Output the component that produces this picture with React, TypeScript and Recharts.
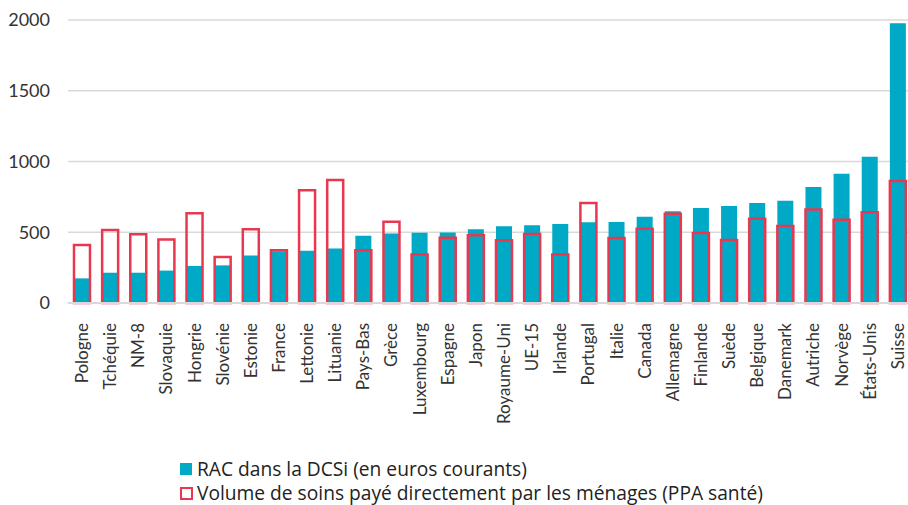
import { BarChart, Bar, XAxis, YAxis, CartesianGrid } from "recharts";

const countries = [
  "Pologne", "Tchéquie", "NM-8", "Slovaquie", "Hongrie", "Slovénie", "Estonie", "France",
  "Lettonie", "Lituanie", "Pays-Bas", "Grèce", "Luxembourg", "Espagne", "Japon",
  "Royaume-Uni", "UE-15", "Irlande", "Portugal", "Italie", "Canada", "Allemagne",
  "Finlande", "Suède", "Belgique", "Danemark", "Autriche", "Norvège", "États-Unis", "Suisse",
];

const racDcsi = [
  174, 214, 214, 229, 262, 266, 335, 365, 370, 386, 476, 492, 497, 499, 521,
  542, 549, 558, 570, 572, 610, 648, 671, 686, 707, 723, 820, 914, 1034, 1977,
];

const volumeSoins = [
  410, 516, 485, 448, 634, 325, 521, 372, 796, 869, 372, 575, 342, 462, 478,
  443, 488, 342, 707, 459, 525, 631, 495, 445, 596, 544, 660, 589, 641, 862,
];

const yTicks = [0, 500, 1000, 1500, 2000];

const seriesNames = [
  "RAC dans la DCSi (en euros courants)",
  "Volume de soins payé directement par les ménages (PPA santé)",
];

const TEAL = "#00a9c6";
const RED = "#e8384f";
const FONT = "Lato, 'Open Sans', sans-serif";
const LEGEND_FONT = "'Open Sans', Lato, sans-serif";

const data = countries.map((name, i) => ({
  name,
  rac: racDcsi[i],
  volume: volumeSoins[i],
}));

function CountryTick(props: any) {
  const { x, y, payload } = props;
  return (
    <g transform={`translate(${x},${y})`}>
      <text
        transform="rotate(-90)"
        textAnchor="end"
        dy="0.35em"
        fill="#333"
        fontSize={17}
        fontFamily={FONT}
      >
        {payload.value}
      </text>
    </g>
  );
}

export default function App() {
  return (
    <div
      style={{
        position: "absolute",
        left: 0,
        top: 0,
        width: 908,
        height: 505,
        overflow: "hidden",
        background: "#fff",
        fontFamily: FONT,
      }}
    >
      <BarChart
        width={916}
        height={505}
        data={data}
        margin={{ top: 20, right: 4, bottom: 0, left: 8 }}
        barGap={-16}
        barCategoryGap={0}
      >
        <CartesianGrid vertical={false} stroke="#d9d9d9" strokeWidth={1.5} />
        <XAxis
          dataKey="name"
          interval={0}
          height={202}
          tickLine={false}
          axisLine={{ stroke: "#d9d9d9", strokeWidth: 2 }}
          tick={<CountryTick />}
          tickMargin={14}
        />
        <YAxis
          domain={[0, 2000]}
          ticks={yTicks}
          width={60}
          axisLine={false}
          tickLine={false}
          tickSize={0}
          tickMargin={18}
          tick={{ fill: "#333", fontSize: 18, fontFamily: FONT }}
        />
        <Bar dataKey="rac" fill={TEAL} barSize={16} isAnimationActive={false} />
        <Bar
          dataKey="volume"
          fill="transparent"
          stroke={RED}
          strokeWidth={2.5}
          barSize={16}
          isAnimationActive={false}
        />
      </BarChart>
      <div
        style={{
          position: "absolute",
          left: 180,
          top: 457,
          fontSize: 19.2,
          fontFamily: LEGEND_FONT,
          color: "#222",
          lineHeight: "24px",
        }}
      >
        <div style={{ display: "flex", alignItems: "center", whiteSpace: "nowrap" }}>
          <span style={{ width: 12, height: 12, background: TEAL, marginRight: 5, display: "inline-block" }} />
          {seriesNames[0]}
        </div>
        <div style={{ display: "flex", alignItems: "center", whiteSpace: "nowrap" }}>
          <span
            style={{
              width: 9,
              height: 9,
              border: `2.5px solid ${RED}`,
              marginRight: 4,
              display: "inline-block",
            }}
          />
          {seriesNames[1]}
        </div>
      </div>
    </div>
  );
}
